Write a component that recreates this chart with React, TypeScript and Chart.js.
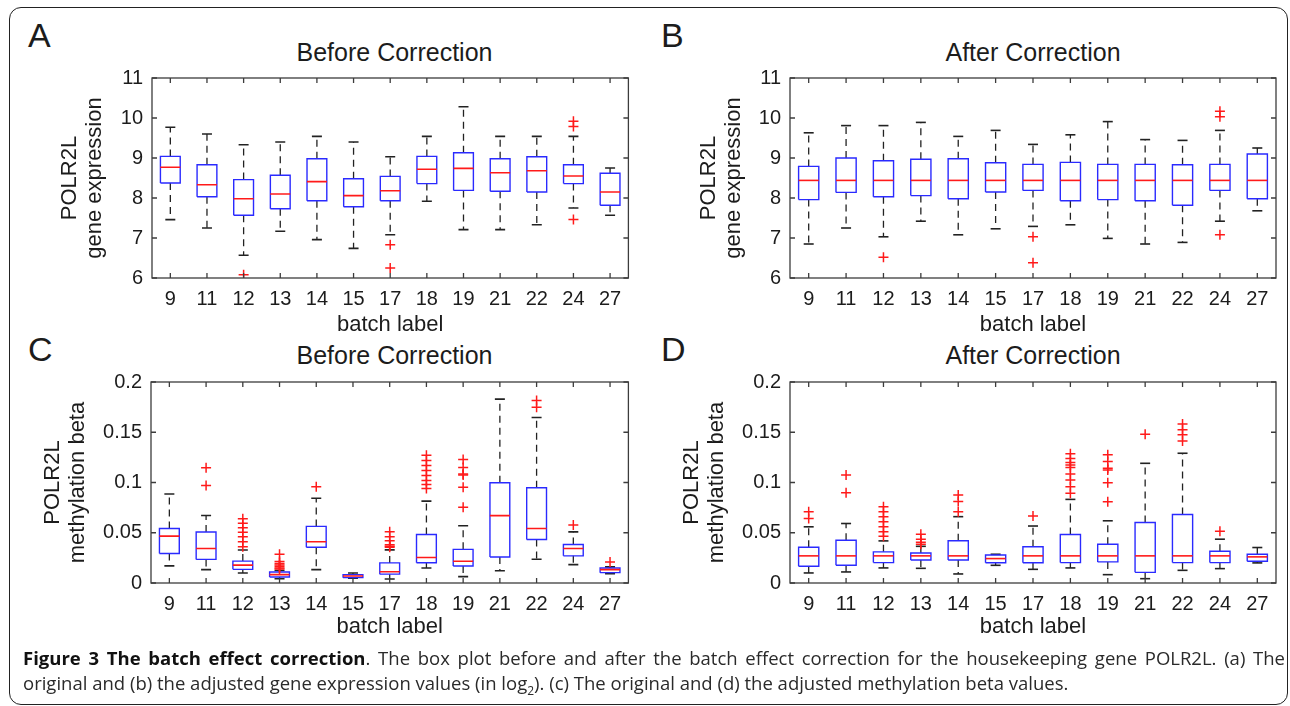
import React, { useEffect, useRef } from 'react';
import { Chart, registerables } from 'chart.js';

Chart.register(...registerables);

const FONT = '"Liberation Sans", Arial, Helvetica, sans-serif';

// ---------- data ----------
const batchLabels = ['9', '11', '12', '13', '14', '15', '17', '18', '19', '21', '22', '24', '27'];
const exprTicks = [6, 7, 8, 9, 10, 11];
const methTicks = [0, 0.05, 0.1, 0.15, 0.2];

// Panel A: gene expression, before correction
const aQ1 = [8.375, 8.03, 7.57, 7.73, 7.93, 7.78, 7.93, 8.36, 8.19, 8.17, 8.15, 8.36, 7.82];
const aMed = [8.77, 8.33, 7.98, 8.1, 8.41, 8.06, 8.18, 8.72, 8.74, 8.63, 8.68, 8.55, 8.15];
const aQ3 = [9.04, 8.83, 8.46, 8.57, 8.98, 8.48, 8.54, 9.04, 9.13, 8.98, 9.03, 8.83, 8.62];
const aLo = [7.46, 7.25, 6.57, 7.17, 6.96, 6.74, 7.08, 7.92, 7.21, 7.21, 7.33, 7.75, 7.57];
const aHi = [9.77, 9.6, 9.33, 9.4, 9.54, 9.4, 9.03, 9.54, 10.28, 9.54, 9.54, 9.54, 8.75];
const aOut = [[], [], [6.08], [], [], [], [6.83, 6.25], [], [], [], [], [9.92, 9.79, 7.46], []];

// Panel B: gene expression, after correction
const bQ1 = [7.96, 8.14, 8.03, 8.06, 7.98, 8.15, 8.19, 7.93, 7.96, 7.93, 7.82, 8.19, 7.98];
const bMed = [8.44, 8.44, 8.44, 8.44, 8.44, 8.44, 8.44, 8.44, 8.44, 8.44, 8.44, 8.44, 8.44];
const bQ3 = [8.79, 9.0, 8.93, 8.97, 8.98, 8.88, 8.84, 8.89, 8.84, 8.84, 8.83, 8.84, 9.1];
const bLo = [6.85, 7.25, 7.03, 7.42, 7.08, 7.23, 7.29, 7.33, 6.99, 6.85, 6.89, 7.42, 7.68];
const bHi = [9.63, 9.81, 9.81, 9.89, 9.54, 9.69, 9.34, 9.58, 9.91, 9.46, 9.44, 9.69, 9.25];
const bOut = [[], [], [6.52], [], [], [], [7.03, 6.38], [], [], [], [], [10.17, 10.03, 7.08], []];

// Panel C: methylation beta, before correction
const cQ1 = [0.0293, 0.0235, 0.0136, 0.006, 0.0355, 0.0053, 0.0088, 0.0202, 0.0169, 0.0258, 0.0433, 0.027, 0.0103];
const cMed = [0.0466, 0.0344, 0.0178, 0.0083, 0.041, 0.007, 0.0112, 0.0254, 0.0216, 0.067, 0.0542, 0.0343, 0.0133];
const cQ3 = [0.0542, 0.0508, 0.0218, 0.011, 0.0563, 0.0083, 0.02, 0.0483, 0.0335, 0.0998, 0.0948, 0.0383, 0.015];
const cLo = [0.017, 0.0133, 0.01, 0.0043, 0.0133, 0.0047, 0.004, 0.015, 0.0063, 0.0122, 0.0236, 0.0183, 0.0093];
const cHi = [0.0886, 0.0672, 0.0328, 0.0125, 0.0843, 0.01, 0.033, 0.0815, 0.057, 0.183, 0.1647, 0.0509, 0.016];
const cOut = [
  [],
  [0.1148, 0.097],
  [0.064, 0.0595, 0.055, 0.0505, 0.046, 0.041, 0.036],
  [0.0285, 0.0215, 0.0195, 0.018, 0.0165, 0.015, 0.014],
  [0.0958],
  [],
  [0.051, 0.046, 0.042, 0.038, 0.0365, 0.0355],
  [0.127, 0.122, 0.117, 0.112, 0.107, 0.102, 0.098, 0.094],
  [0.123, 0.115, 0.1085, 0.1075, 0.0952, 0.0753],
  [],
  [0.1817, 0.175],
  [0.0576],
  [0.021],
];

// Panel D: methylation beta, after correction
const dQ1 = [0.0166, 0.0176, 0.0203, 0.0229, 0.0229, 0.0202, 0.0202, 0.0203, 0.021, 0.0106, 0.0203, 0.0203, 0.0216];
const dMed = [0.027, 0.027, 0.027, 0.027, 0.027, 0.0243, 0.027, 0.027, 0.027, 0.027, 0.027, 0.027, 0.026];
const dQ3 = [0.0356, 0.0426, 0.031, 0.0298, 0.042, 0.0279, 0.036, 0.0483, 0.0386, 0.0602, 0.0682, 0.0316, 0.0286];
const dLo = [0.01, 0.011, 0.015, 0.0146, 0.009, 0.0176, 0.0136, 0.015, 0.0083, 0.0043, 0.0126, 0.0143, 0.02];
const dHi = [0.0559, 0.0592, 0.0419, 0.0365, 0.066, 0.0286, 0.0567, 0.0832, 0.0619, 0.1191, 0.1291, 0.0436, 0.0353];
const dOut = [
  [0.0709, 0.0642],
  [0.1075, 0.0899],
  [0.0759, 0.0709, 0.0659, 0.0609, 0.0559, 0.0509, 0.0466],
  [0.0486, 0.0436, 0.0405, 0.0386],
  [0.0876, 0.081, 0.071],
  [],
  [0.0666],
  [0.1285, 0.124, 0.12, 0.1175, 0.115, 0.1085, 0.1025, 0.0958, 0.0892],
  [0.1275, 0.121, 0.1141, 0.1125, 0.0998, 0.0809],
  [0.1481],
  [0.1581, 0.1524, 0.1474, 0.1414],
  [0.0516],
  [],
];

// ---------- drawing helpers ----------
const BOX_HALF = 0.27;

function buildDatasets(q1: number[], med: number[], q3: number[], lo: number[], hi: number[], out: number[][]) {
  const whiskers: any[] = [];
  const caps: any[] = [];
  const boxes: any[] = [];
  const medians: any[] = [];
  const outliers: any[] = [];
  batchLabels.forEach((_, i) => {
    const x = i + 1;
    whiskers.push({ x, y: q3[i] }, { x, y: hi[i] }, { x, y: null }, { x, y: q1[i] }, { x, y: lo[i] }, { x, y: null });
    caps.push({ x, y: hi[i] }, { x, y: lo[i] });
    boxes.push(
      { x: x - BOX_HALF, y: q1[i] },
      { x: x + BOX_HALF, y: q1[i] },
      { x: x + BOX_HALF, y: q3[i] },
      { x: x - BOX_HALF, y: q3[i] },
      { x: x - BOX_HALF, y: q1[i] },
      { x, y: null }
    );
    medians.push({ x, y: med[i] });
    out[i].forEach((v) => outliers.push({ x, y: v }));
  });
  return [
    {
      data: outliers,
      pointStyle: 'cross',
      pointRadius: 5,
      pointBorderColor: '#ff1a1a',
      pointBorderWidth: 1.5,
      showLine: false,
    },
    {
      data: medians,
      pointStyle: 'line',
      pointRadius: 10,
      pointBorderColor: '#ff1a1a',
      pointBorderWidth: 1.6,
      showLine: false,
    },
    {
      data: boxes,
      showLine: true,
      borderColor: '#2a2aff',
      borderWidth: 1.4,
      pointRadius: 0,
      tension: 0,
      spanGaps: false,
    },
    {
      data: caps,
      pointStyle: 'line',
      pointRadius: 5,
      pointBorderColor: '#222',
      pointBorderWidth: 1.6,
      showLine: false,
    },
    {
      data: whiskers,
      showLine: true,
      borderColor: '#222',
      borderWidth: 1.3,
      borderDash: [7, 5],
      pointRadius: 0,
      tension: 0,
      spanGaps: false,
    },
  ];
}

const framePlugin = {
  id: 'matlabFrame',
  afterDraw(chart: any) {
    const { ctx, chartArea: a, scales } = chart;
    const xs = scales.x;
    const ys = scales.y;
    const L = 5;
    ctx.save();
    ctx.strokeStyle = '#3c3c3c';
    ctx.lineWidth = 1.3;
    ctx.strokeRect(a.left, a.top, a.right - a.left, a.bottom - a.top);
    ctx.beginPath();
    xs.ticks.forEach((t: any) => {
      const px = xs.getPixelForValue(t.value);
      ctx.moveTo(px, a.bottom);
      ctx.lineTo(px, a.bottom - L);
      ctx.moveTo(px, a.top);
      ctx.lineTo(px, a.top + L);
    });
    ys.ticks.forEach((t: any) => {
      const py = ys.getPixelForValue(t.value);
      ctx.moveTo(a.left, py);
      ctx.lineTo(a.left + L, py);
      ctx.moveTo(a.right, py);
      ctx.lineTo(a.right - L, py);
    });
    ctx.stroke();
    ctx.restore();
  },
};

type PanelProps = {
  left: number;
  top: number;
  width: number;
  height: number;
  plotLeft: number;
  plotRight: number;
  plotTop: number;
  plotBottom: number;
  yMin: number;
  yMax: number;
  yTicks: number[];
  yTitle: string[];
  yTitlePad: number;
  xTitlePad: number;
  q1: number[];
  med: number[];
  q3: number[];
  lo: number[];
  hi: number[];
  out: number[][];
};

function Panel(p: PanelProps) {
  const ref = useRef<HTMLCanvasElement | null>(null);
  useEffect(() => {
    if (!ref.current) return;
    const chart = new Chart(ref.current, {
      type: 'scatter',
      data: { datasets: buildDatasets(p.q1, p.med, p.q3, p.lo, p.hi, p.out) as any },
      options: {
        animation: false,
        responsive: false,
        events: [],
        layout: {
          padding: {
            left: 0,
            top: p.plotTop - p.top,
            right: p.left + p.width - p.plotRight,
            bottom: 0,
          },
        },
        plugins: {
          legend: { display: false },
          tooltip: { enabled: false },
          title: { display: false },
        },
        scales: {
          x: {
            type: 'linear',
            min: 0.5,
            max: 13.5,
            grid: { display: false, drawTicks: false },
            border: { display: false },
            afterBuildTicks: (s: any) => {
              s.ticks = batchLabels.map((_, i) => ({ value: i + 1 }));
            },
            afterFit: (s: any) => {
              s.height = p.top + p.height - p.plotBottom;
            },
            ticks: {
              autoSkip: false,
              maxRotation: 0,
              minRotation: 0,
              padding: 9,
              color: '#1c1c1c',
              font: { family: FONT, size: 20 },
              callback: (v: any) => batchLabels[Math.round(Number(v)) - 1] ?? '',
            },
            title: {
              display: true,
              text: 'batch label',
              color: '#1c1c1c',
              font: { family: FONT, size: 22, lineHeight: 1.2 },
              padding: { top: 0, bottom: p.xTitlePad },
            },
          },
          y: {
            type: 'linear',
            min: p.yMin,
            max: p.yMax,
            grid: { display: false, drawTicks: false },
            border: { display: false },
            afterBuildTicks: (s: any) => {
              s.ticks = p.yTicks.map((v) => ({ value: v }));
            },
            afterFit: (s: any) => {
              s.width = p.plotLeft - p.left;
            },
            ticks: {
              padding: 9,
              color: '#1c1c1c',
              font: { family: FONT, size: 20 },
              callback: (v: any) => String(v),
            },
            title: {
              display: true,
              text: p.yTitle,
              color: '#1c1c1c',
              font: { family: FONT, size: 22, lineHeight: 1.12 },
              padding: { top: p.yTitlePad, bottom: 0 },
            },
          },
        },
      } as any,
      plugins: [framePlugin],
    });
    return () => chart.destroy();
  }, []);
  return (
    <canvas
      ref={ref}
      width={p.width}
      height={p.height}
      style={{ position: 'absolute', left: p.left, top: p.top, width: p.width, height: p.height }}
    />
  );
}

const titleStyle = (cx: number, top: number): React.CSSProperties => ({
  position: 'absolute',
  left: cx - 200,
  width: 400,
  top,
  textAlign: 'center',
  fontFamily: FONT,
  fontSize: 25,
  lineHeight: '25px',
  color: '#1c1c1c',
  whiteSpace: 'nowrap',
});

const letterStyle = (left: number, top: number): React.CSSProperties => ({
  position: 'absolute',
  left,
  top,
  fontFamily: FONT,
  fontSize: 34,
  lineHeight: '34px',
  color: '#1c1c1c',
});

export default function App() {
  const exprTitle = ['POLR2L', 'gene expression'];
  const methTitle = ['POLR2L', 'methylation beta'];
  return (
    <div
      style={{
        position: 'absolute',
        left: 0,
        top: 0,
        width: 1290,
        height: 706,
        background: '#fff',
        overflow: 'hidden',
      }}
    >
      <div
        style={{
          position: 'absolute',
          left: 9,
          top: 7,
          width: 1279,
          height: 698,
          boxSizing: 'border-box',
          border: '1.5px solid #222',
          borderRadius: 12,
        }}
      />
      <div style={letterStyle(28, 18)}>A</div>
      <div style={letterStyle(661, 18)}>B</div>
      <div style={letterStyle(28, 332)}>C</div>
      <div style={letterStyle(661, 332)}>D</div>

      <div style={titleStyle(394.5, 40)}>Before Correction</div>
      <div style={titleStyle(1033, 40)}>After Correction</div>
      <div style={titleStyle(394.5, 343)}>Before Correction</div>
      <div style={titleStyle(1033, 343)}>After Correction</div>

      <Panel
        left={0} top={40} width={640} height={305}
        plotLeft={152} plotRight={637} plotTop={78} plotBottom={278}
        yMin={6} yMax={11} yTicks={exprTicks} yTitle={exprTitle} yTitlePad={58} xTitlePad={7}
        q1={aQ1} med={aMed} q3={aQ3} lo={aLo} hi={aHi} out={aOut}
      />
      <Panel
        left={640} top={40} width={650} height={305}
        plotLeft={790} plotRight={1276} plotTop={78} plotBottom={278}
        yMin={6} yMax={11} yTicks={exprTicks} yTitle={exprTitle} yTitlePad={57} xTitlePad={7}
        q1={bQ1} med={bMed} q3={bQ3} lo={bLo} hi={bHi} out={bOut}
      />
      <Panel
        left={0} top={350} width={640} height={300}
        plotLeft={151} plotRight={637} plotTop={382} plotBottom={583}
        yMin={0} yMax={0.2} yTicks={methTicks} yTitle={methTitle} yTitlePad={41} xTitlePad={10}
        q1={cQ1} med={cMed} q3={cQ3} lo={cLo} hi={cHi} out={cOut}
      />
      <Panel
        left={640} top={350} width={650} height={300}
        plotLeft={790} plotRight={1276} plotTop={382} plotBottom={583}
        yMin={0} yMax={0.2} yTicks={methTicks} yTitle={methTitle} yTitlePad={40} xTitlePad={10}
        q1={dQ1} med={dMed} q3={dQ3} lo={dLo} hi={dHi} out={dOut}
      />

      <div
        style={{
          position: 'absolute',
          left: 23,
          top: 645,
          width: 1262,
          fontFamily: '"Open Sans", "Noto Sans", sans-serif',
          fontSize: 18.5,
          lineHeight: '25px',
          color: '#2a2a2a',
        }}
      >
        <div style={{ textAlign: 'justify', textAlignLast: 'justify', whiteSpace: 'nowrap' } as React.CSSProperties}>
          <b style={{ color: '#111' }}>Figure 3 The batch effect correction</b>. The box plot before and after the batch
          effect correction for the housekeeping gene POLR2L. (a) The
        </div>
        <div style={{ whiteSpace: 'nowrap' }}>
          original and (b) the adjusted gene expression values (in log<sub style={{ fontSize: 12, lineHeight: 0 }}>2</sub>). (c) The
          original and (d) the adjusted methylation beta values.
        </div>
      </div>
    </div>
  );
}
